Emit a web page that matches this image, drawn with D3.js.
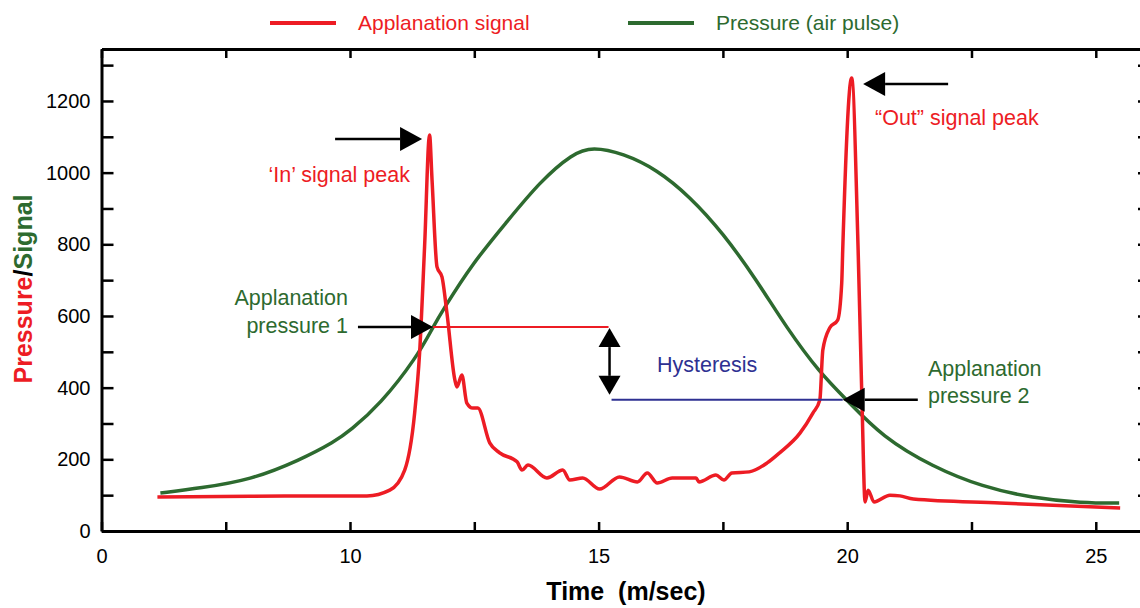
<!DOCTYPE html>
<html>
<head>
<meta charset="utf-8">
<script src="https://cdn.jsdelivr.net/npm/d3@7/dist/d3.min.js"></script>
<style>
  body { margin: 0; background: #fff; }
  svg text { font-family: Arial, "Liberation Sans", Helvetica, sans-serif; }
</style>
</head>
<body>
<svg id="chart" width="1140" height="608"></svg>
<script>
// pressure (air pulse) - green curve
var pressureTime = [2.37, 3.98, 5.98, 7.99, 9.4, 10, 10.6, 11.35, 11.67, 11.87, 12.47, 13.15, 13.82, 14.48, 14.88,
                    15.49, 16.17, 16.83, 17.5, 18.18, 18.78, 19.45, 19.99, 20.71, 21.72, 22.72, 23.73, 24.73, 25.47];
var pressureVal  = [106, 120, 142, 198, 250, 280, 352, 486, 569, 617, 748, 862, 975, 1054, 1072,
                    1054, 1009, 934, 832, 700, 567, 441, 366, 262, 179, 123, 92, 78, 78];

// applanation signal - red curve
var signalTime = [2.25, 6.0, 10.34, 10.8, 11.1, 11.3, 11.4, 11.5, 11.6, 11.65, 11.75, 11.85, 11.95, 12.11, 12.15,
                  12.25, 12.35, 12.47, 12.57, 12.81, 13.01, 13.36, 13.46, 13.58, 13.96, 14.28, 14.42, 14.68,
                  15.02, 15.42, 15.78, 15.98, 16.18, 16.48, 16.96, 17.02, 17.36, 17.52, 17.68, 18.03, 18.39,
                  18.64, 19.05, 19.31, 19.45, 19.51, 19.65, 19.81, 19.89, 19.91, 20.09, 20.22, 20.3, 20.36,
                  20.42, 20.54, 20.86, 21.06, 21.33, 23.07, 25.49];
var signalVal  = [95, 97, 98, 114, 170, 329, 497, 793, 1105, 980, 737, 709, 608, 421, 402,
                  435, 357, 343, 343, 246, 218, 193, 170, 184, 148, 170, 142, 148,
                  117, 151, 137, 162, 134, 148, 148, 137, 156, 142, 162, 165, 190,
                  218, 273, 329, 366, 505, 567, 589, 692, 784, 1264, 784, 346, 81,
                  114, 81, 100, 98, 89, 78, 64];

var xTicks = [0, 5, 10, 12.5, 15, 17.5, 20, 22.5, 25];
var xLabels = [0, 10, 15, 20, 25];
var yTicks = d3.range(0, 1301, 100);
var yLabelStep = 200;

// applanation levels
var ap1 = {t: 11.67, v: 569};
var ap2 = {t: 19.91, v: 366};
var hystT = 15.2;

var red = '#ed1c24', green = '#2d6a2f', navy = '#2e3192';

var svg = d3.select('#chart');

var x = d3.scaleLinear().domain([0, 10, 26.03]).range([101.5, 350, 1147]);
var y = d3.scaleLinear().domain([0, 1345]).range([531, 49]);

// axes
function styleAxis(g){
  g.select('.domain').attr('stroke-width', 3).attr('stroke', '#000');
  g.selectAll('.tick line').attr('stroke-width', 2.5).attr('stroke', '#000');
  g.selectAll('.tick text').attr('font-size', 20).attr('fill', '#000')
    .style('font-family', 'Arial, "Liberation Sans", Helvetica, sans-serif');
}

svg.append('g').attr('transform', 'translate(0,531)')
  .call(d3.axisBottom(x).tickValues(xTicks).tickSize(-9).tickSizeOuter(0).tickPadding(18)
    .tickFormat(function(d){ return xLabels.indexOf(d) >= 0 ? d : ''; }))
  .call(styleAxis);
svg.append('g').attr('transform', 'translate(0,49)')
  .call(d3.axisTop(x).tickValues(xTicks).tickSize(-9).tickSizeOuter(0).tickFormat(''))
  .call(styleAxis);
svg.append('g').attr('transform', 'translate(101.5,0)')
  .call(d3.axisLeft(y).tickValues(yTicks).tickSize(-12).tickSizeOuter(0).tickPadding(11)
    .tickFormat(function(d){ return d % yLabelStep === 0 ? d : ''; }))
  .call(styleAxis);
svg.append('g').attr('transform', 'translate(1147,0)')
  .call(d3.axisRight(y).tickValues(yTicks).tickSize(-9).tickSizeOuter(0).tickFormat(''))
  .call(styleAxis);

// curves
var line = d3.line().x(function(d){ return x(d[0]); }).y(function(d){ return y(d[1]); });

svg.append('path').datum(d3.zip(pressureTime, pressureVal))
  .attr('d', line.curve(d3.curveBasis)).attr('fill', 'none').attr('stroke', green).attr('stroke-width', 3.5);
svg.append('path').datum(d3.zip(signalTime, signalVal))
  .attr('d', line.curve(d3.curveMonotoneX)).attr('fill', 'none').attr('stroke', red).attr('stroke-width', 3.5)
  .attr('stroke-linejoin', 'round');

// hysteresis lines
svg.append('line').attr('x1', x(ap1.t)).attr('x2', x(hystT)).attr('y1', y(ap1.v)).attr('y2', y(ap1.v))
  .attr('stroke', red).attr('stroke-width', 2);
svg.append('line').attr('x1', x(hystT) + 3).attr('x2', x(ap2.t)).attr('y1', y(ap2.v)).attr('y2', y(ap2.v))
  .attr('stroke', navy).attr('stroke-width', 2);

// horizontal arrow from t0 to tip at t1
function hArrow(t0, t1, v){
  var x0 = x(t0), x1 = x(t1), yy = y(v), dir = x1 > x0 ? 1 : -1;
  var hl = 22, hw = 12;
  svg.append('line').attr('x1', x0).attr('x2', x1 - dir * hl).attr('y1', yy).attr('y2', yy)
    .attr('stroke', '#000').attr('stroke-width', 2.5);
  svg.append('path')
    .attr('d', 'M' + x1 + ',' + yy + 'L' + (x1 - dir * hl) + ',' + (yy - hw) + 'L' + (x1 - dir * hl) + ',' + (yy + hw) + 'Z')
    .attr('fill', '#000');
}
hArrow(9.4, 11.45, 1094);     // in peak
hArrow(22.03, 20.32, 1247);   // out peak
hArrow(10.16, ap1.t, ap1.v);  // applanation 1
hArrow(21.42, ap2.t, ap2.v);  // applanation 2

// double arrow (hysteresis)
(function(){
  var xx = x(hystT) + 1, y0 = y(ap1.v) + 1, y1 = y(ap2.v) - 5, hl = 19, hw = 11;
  svg.append('line').attr('x1', xx).attr('x2', xx).attr('y1', y0 + hl).attr('y2', y1 - hl)
    .attr('stroke', '#000').attr('stroke-width', 2.5);
  svg.append('path').attr('d', 'M' + xx + ',' + y0 + 'L' + (xx - hw) + ',' + (y0 + hl) + 'L' + (xx + hw) + ',' + (y0 + hl) + 'Z')
    .attr('fill', '#000');
  svg.append('path').attr('d', 'M' + xx + ',' + y1 + 'L' + (xx - hw) + ',' + (y1 - hl) + 'L' + (xx + hw) + ',' + (y1 - hl) + 'Z')
    .attr('fill', '#000');
})();

// annotation texts
function label(txt, px, py, color, anchor){
  svg.append('text').attr('x', px).attr('y', py).attr('fill', color).attr('font-size', 21.5)
    .attr('text-anchor', anchor || 'start').text(txt);
}
label('\u2018In\u2019 signal peak', 410, 182, red, 'end');
label('\u201COut\u201D signal peak', 875, 125, red);
label('Applanation', 348, 305, green, 'end');
label('pressure 1', 348, 333, green, 'end');
label('Hysteresis', 657, 372, navy);
label('Applanation', 928, 376, green);
label('pressure 2', 928, 403, green);

// legend
var legend = [{name: 'Applanation signal', color: red, x: 270}, {name: 'Pressure (air pulse)', color: green, x: 628}];
var lg = svg.append('g').selectAll('g').data(legend).enter().append('g');
lg.append('line').attr('x1', function(d){ return d.x; }).attr('x2', function(d){ return d.x + 66; })
  .attr('y1', 23).attr('y2', 23).attr('stroke', function(d){ return d.color; }).attr('stroke-width', 4);
lg.append('text').attr('x', function(d){ return d.x + 88; }).attr('y', 30).attr('font-size', 21)
  .attr('fill', function(d){ return d.color; }).text(function(d){ return d.name; });

// axis titles
svg.append('text').attr('x', 626).attr('y', 600).attr('text-anchor', 'middle')
  .attr('font-size', 25).attr('font-weight', 'bold').style('white-space', 'pre').text('Time  (m/sec)');
var yt = svg.append('text').attr('transform', 'translate(32,289) rotate(-90)').attr('text-anchor', 'middle')
  .attr('font-size', 25).attr('font-weight', 'bold');
yt.append('tspan').attr('fill', red).text('Pressure');
yt.append('tspan').attr('fill', '#000').text('/');
yt.append('tspan').attr('fill', green).text('Signal');
</script>
</body>
</html>
